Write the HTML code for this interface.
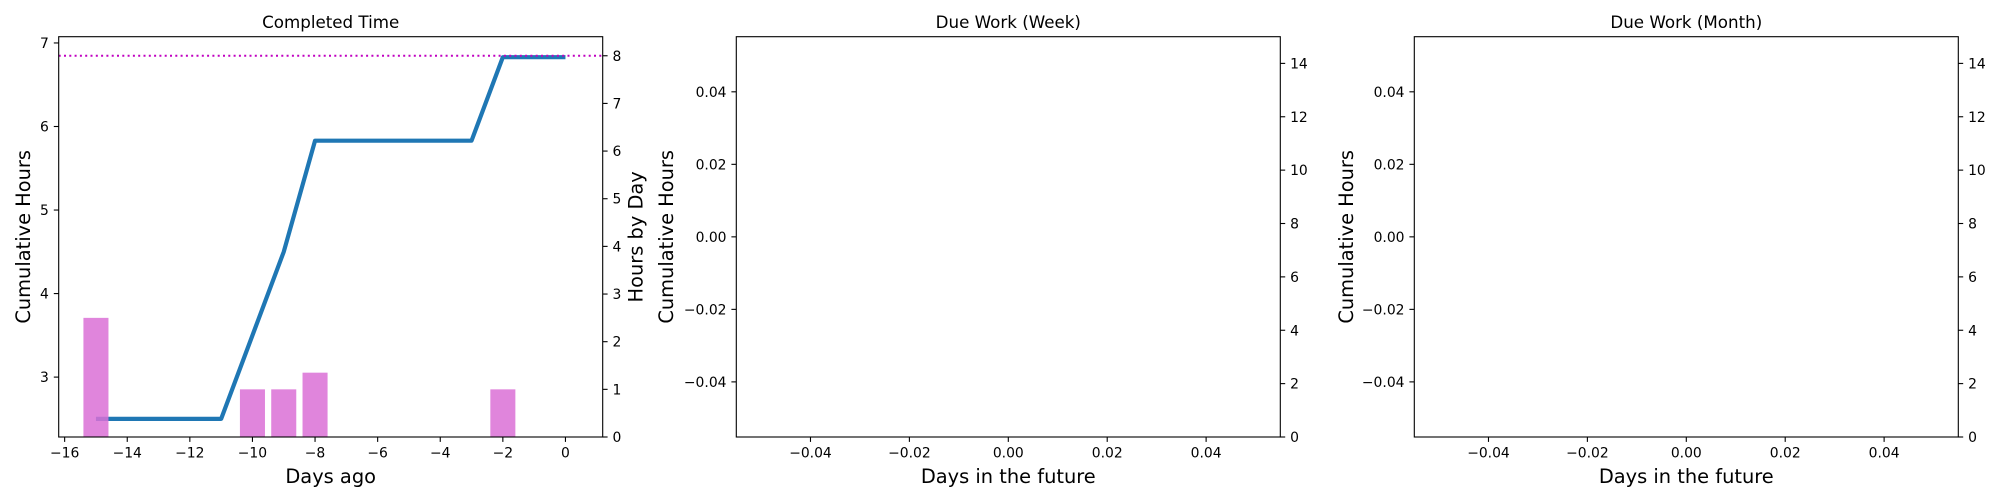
<!DOCTYPE html>
<html><head><meta charset="utf-8">
<style>
html,body{margin:0;padding:0;background:#fff;}
svg{display:block;font-family:"DejaVu Sans","Liberation Sans",sans-serif;}
</style></head>
<body>
<svg id="fig" width="2000" height="500" viewBox="0 0 2000 500" xmlns="http://www.w3.org/2000/svg"></svg>
<script>
// ---- data ----
const lineDays = [-15, -14, -13, -12, -11, -10, -9, -8, -7, -6, -5, -4, -3, -2, -1, 0];
const cumulativeHours = [2.5, 2.5, 2.5, 2.5, 2.5, 3.5, 4.5, 5.83, 5.83, 5.83, 5.83, 5.83, 5.83, 6.83, 6.83, 6.83];
const barDays = [-15, -10, -9, -8, -2];
const hoursByDay = [2.5, 1, 1, 1.35, 1];
const targetHours = [8];
const chart1XTicks = [-16, -14, -12, -10, -8, -6, -4, -2, 0];
const chart1LeftTicks = [3, 4, 5, 6, 7];
const chart1RightTicks = [0, 1, 2, 3, 4, 5, 6, 7, 8];
const emptyXTicks = [-0.04, -0.02, 0.00, 0.02, 0.04];
const emptyLeftTicks = [-0.04, -0.02, 0.00, 0.02, 0.04];
const emptyRightTicks = [0, 2, 4, 6, 8, 10, 12, 14];
const chartTitles = ["Completed Time", "Due Work (Week)", "Due Work (Month)"];

const NS = "http://www.w3.org/2000/svg";
const svg = document.getElementById('fig');
function mk(tag, attrs, parent) {
  const e = document.createElementNS(NS, tag);
  for (const k in attrs) e.setAttribute(k, attrs[k]);
  (parent || svg).appendChild(e);
  return e;
}
function fmt(v, d) {
  let s = d ? v.toFixed(d) : String(v);
  return s.replace('-', '\u2212');
}
const TOP = 36.7, BOT = 437, W = 544;
const TICKFS = 13.9, LBLFS = 19.4, TITFS = 16.7, TL = 4.9;

function makeAxes(idx, left, xlim, ylim, y2lim, xTicks, yTicks, y2Ticks, xdec, ydec, xlabel, ylabelX, y2label) {
  const g = mk('g', {}, svg);
  
  
  const right = left + W;
  const sx = v => left + (v - xlim[0]) / (xlim[1] - xlim[0]) * W;
  const sy = v => BOT - (v - ylim[0]) / (ylim[1] - ylim[0]) * (BOT - TOP);
  const sy2 = v => BOT - (v - y2lim[0]) / (y2lim[1] - y2lim[0]) * (BOT - TOP);
  const t = mk('text', {x: (left + right) / 2, y: 28, 'font-size': TITFS, 'text-anchor': 'middle'}, g);
  t.textContent = chartTitles[idx];
  
  
  xTicks.forEach(v => {
    const x = sx(v);
    const tk = mk('line', {x1: x, x2: x, y1: BOT, y2: BOT + TL, stroke: '#000', 'stroke-width': 1.1}, g);
    
    
    const tx = mk('text', {x: x, y: BOT + TL + 4.9 + 10.5, 'font-size': TICKFS, 'text-anchor': 'middle'}, g);
    tx.textContent = fmt(v, xdec);
    
    
  });
  yTicks.forEach(v => {
    const y = sy(v);
    const tk = mk('line', {x1: left - TL, x2: left, y1: y, y2: y, stroke: '#000', 'stroke-width': 1.1}, g);
    
    
    const tx = mk('text', {x: left - TL - 4.9, y: y + 5, 'font-size': TICKFS, 'text-anchor': 'end'}, g);
    tx.textContent = fmt(v, ydec);
    
    
  });
  y2Ticks.forEach(v => {
    const y = sy2(v);
    const tk = mk('line', {x1: right, x2: right + TL, y1: y, y2: y, stroke: '#000', 'stroke-width': 1.1}, g);
    
    
    const tx = mk('text', {x: right + TL + 4.9, y: y + 5, 'font-size': TICKFS, 'text-anchor': 'start'}, g);
    tx.textContent = fmt(v, 0);
    
    
  });
  const xl = mk('text', {x: (left + right) / 2, y: 483, 'font-size': LBLFS, 'text-anchor': 'middle'}, g);
  xl.textContent = xlabel;
  
  
  const yl = mk('text', {x: 0, y: 0, 'font-size': LBLFS, 'text-anchor': 'middle', transform: `translate(${ylabelX},${(TOP + BOT) / 2}) rotate(-90)`}, g);
  yl.textContent = 'Cumulative Hours';
  
  
  if (y2label) {
    const y2 = mk('text', {x: 0, y: 0, 'font-size': LBLFS, 'text-anchor': 'middle', transform: `translate(${right + 40},${(TOP + BOT) / 2}) rotate(-90)`}, g);
    y2.textContent = y2label;
    
    
  }
  return {g, sx, sy, sy2, left, right};
}

const a1 = makeAxes(0, 58.7, [-16.19, 1.19], [2.283, 7.075], [0, 8.4], chart1XTicks, chart1LeftTicks, chart1RightTicks, 0, 0, 'Days ago', 30, 'Hours by Day');
const pts = lineDays.map((d, i) => a1.sx(d).toFixed(2) + ',' + a1.sy(cumulativeHours[i]).toFixed(2)).join(' ');
const pl = mk('polyline', {points: pts, fill: 'none', stroke: '#1f77b4', 'stroke-width': 4.2, 'stroke-linejoin': 'round'}, a1.g);


barDays.forEach((d, i) => {
  const x0 = a1.sx(d - 0.4), x1 = a1.sx(d + 0.4);
  const y = a1.sy2(hoursByDay[i]);
  const r = mk('rect', {x: x0, y: y, width: x1 - x0, height: BOT - y, fill: '#da70d6', 'fill-opacity': 0.85}, a1.g);
  
  
});
targetHours.forEach(v => {
  const y = a1.sy2(v);
  const tl = mk('line', {x1: a1.left, x2: a1.right, y1: y, y2: y, stroke: '#c000c0', 'stroke-width': 2, 'stroke-dasharray': '2,3.3'}, a1.g);
  
  
});
const a2 = makeAxes(1, 736.3, [-0.055, 0.055], [-0.0552, 0.0552], [0, 15], emptyXTicks, emptyLeftTicks, emptyRightTicks, 2, 2, 'Days in the future', 673, null);
const a3 = makeAxes(2, 1414.3, [-0.055, 0.055], [-0.0552, 0.0552], [0, 15], emptyXTicks, emptyLeftTicks, emptyRightTicks, 2, 2, 'Days in the future', 1353, null);
[a1, a2, a3].forEach(a => {
  const f = mk('rect', {x: a.left, y: TOP, width: W, height: BOT - TOP, fill: 'none', stroke: '#000', 'stroke-width': 1.1}, a.g);
  
  
});
</script>
</body></html>
